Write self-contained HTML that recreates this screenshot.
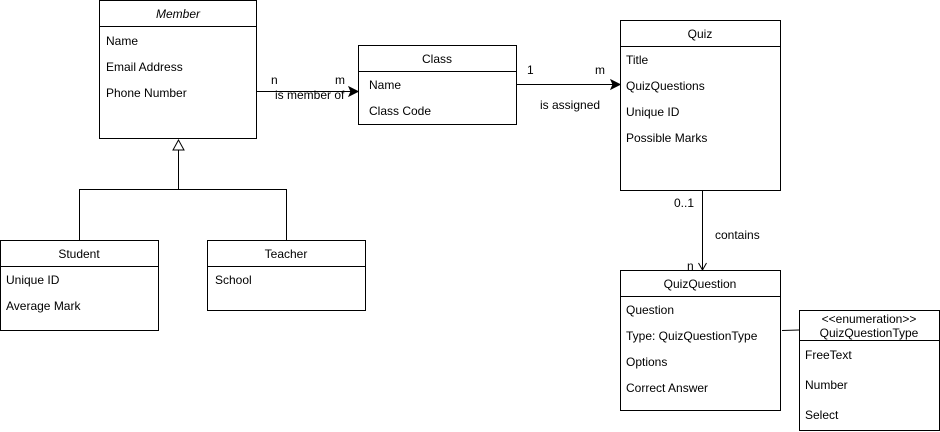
<!DOCTYPE html>
<html><head><style>body{margin:0;background:#fff}svg{display:block}text{font-family:"Liberation Sans",Arial,sans-serif;font-size:12px;fill:#000}</style></head><body>
<svg width="940" height="432" viewBox="0 0 940 432" xmlns="http://www.w3.org/2000/svg">
<g fill="#fff" stroke="#000" stroke-width="1">
<rect x="99.5" y="0.5" width="157" height="138"/><line x1="99.5" y1="26.5" x2="256.5" y2="26.5"/>
<rect x="358.5" y="45.5" width="158" height="79"/><line x1="358.5" y1="71.5" x2="516.5" y2="71.5"/>
<rect x="0.5" y="240.5" width="158" height="90"/><line x1="0.5" y1="266.5" x2="158.5" y2="266.5"/>
<rect x="207.5" y="240.5" width="158" height="70"/><line x1="207.5" y1="266.5" x2="365.5" y2="266.5"/>
<rect x="620.5" y="20.5" width="160" height="170"/><line x1="620.5" y1="46.5" x2="780.5" y2="46.5"/>
<rect x="620.5" y="270.5" width="160" height="140"/><line x1="620.5" y1="296.5" x2="780.5" y2="296.5"/>
<rect x="799.5" y="310.5" width="140" height="120"/><line x1="799.5" y1="340.5" x2="939.5" y2="340.5"/>
</g>
<g stroke="#000" fill="none">
<polyline points="79.5,240 79.5,189.5 286.5,189.5 286.5,240"/>
<line x1="178.5" y1="189.5" x2="178.5" y2="150"/>
<polygon points="178.5,140 173,150 184,150" fill="#fff"/>
<line x1="257" y1="91.5" x2="352" y2="91.5"/>
<polygon points="358,91.5 349,87 351,91.5 349,96" fill="#000"/>
<line x1="517" y1="84.5" x2="614" y2="84.5"/>
<polygon points="620,84.5 611,80 613,84.5 611,89" fill="#000"/>
<line x1="702.5" y1="191" x2="702.5" y2="269"/>
<polyline points="698.5,263 702.5,270 706.5,263"/>
<line x1="782" y1="330.5" x2="799" y2="330"/>
</g>
<text x="178" y="18" text-anchor="middle" font-style="italic">Member</text>
<text x="106" y="45">Name</text><text x="106" y="71">Email Address</text><text x="106" y="97">Phone Number</text>
<text x="437" y="63" text-anchor="middle">Class</text>
<text x="369" y="89">Name</text><text x="369" y="115">Class Code</text>
<text x="79" y="258" text-anchor="middle">Student</text>
<text x="6" y="284">Unique ID</text><text x="6" y="310">Average Mark</text>
<text x="286" y="258" text-anchor="middle">Teacher</text>
<text x="215" y="284">School</text>
<text x="700" y="38" text-anchor="middle">Quiz</text>
<text x="626" y="64">Title</text><text x="626" y="90">QuizQuestions</text><text x="626" y="116">Unique ID</text><text x="626" y="142">Possible Marks</text>
<text x="700" y="288" text-anchor="middle">QuizQuestion</text>
<text x="626" y="314">Question</text><text x="626" y="340">Type: QuizQuestionType</text><text x="626" y="366">Options</text><text x="626" y="392">Correct Answer</text>
<text x="869" y="323" text-anchor="middle" font-size="11">&lt;&lt;enumeration&gt;&gt;</text>
<text x="869" y="337" text-anchor="middle">QuizQuestionType</text>
<text x="805" y="359">FreeText</text><text x="805" y="389">Number</text><text x="805" y="419">Select</text>
<text x="271" y="84">n</text><text x="335" y="84">m</text><text x="275" y="99">is member of</text>
<text x="527" y="74">1</text><text x="595" y="74">m</text><text x="540" y="109">is assigned</text>
<text x="674" y="207">0..1</text><text x="715" y="239">contains</text><text x="687" y="270">n</text>
</svg>
</body></html>
